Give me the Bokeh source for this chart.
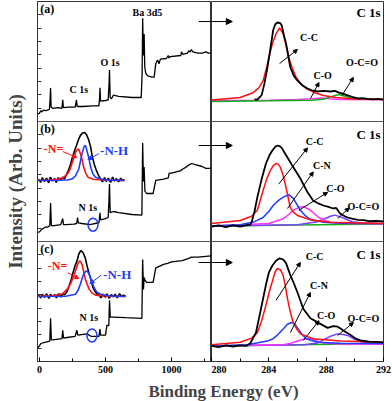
from bokeh.plotting import figure
from bokeh.layouts import row, column
from bokeh.models import Range1d, Span, Label, Arrow, NormalHead, FixedTicker
from bokeh.embed import file_html
from bokeh.resources import INLINE

FONT = "Liberation Serif"

# ---------------- data (binding energy eV, intensity in % of panel height) ----------------
survey_a = [(-15,6),(0,7),(10,9),(20,8),(30,9.5),(45,9),(60,9.5),(75,10),(80,18),(84,28),(88,12),(100,11),
            (140,11.5),(170,11),(176,18),(181,11.5),(220,12),(270,12),(280,18),(285,12.5),(330,12.5),(400,13),
            (450,13),(455,20),(458,28),(462,17),(500,17.5),(520,18),(526,30),(530,43),(535,20),(545,19),(560,22),
            (600,21),(700,20),(770,20),(777,40),(781,86),(786,55),(792,73),(797,45),(805,40),(820,38),(850,37),
            (868,37),(880,48),(892,51),(900,50),(905,48),(915,52),(960,52.5),(975,55),(980,53),(990,54),(1070,55),
            (1075,58),(1085,56),(1120,57),(1130,59),(1140,58),(1150,60),(1160,58),(1200,57),(1230,57),(1260,58),
            (1280,57),(1302,57)]
survey_b = [(-15,7.5),(0,8),(20,10.5),(30,11),(45,12),(60,12),(78,13),(84,32),(90,13.5),(100,13),(160,14),
            (176,19),(182,14),(200,14),(260,14.5),(282,15),(288,20),(294,15.5),(320,15),(380,14),(400,14.5),
            (420,15),(450,15.5),(458,24),(462,18),(500,19),(520,20),(526,35),(530,48),(535,24),(560,25),(600,24),
            (700,22.5),(775,22),(781,82),(787,50),(792,62),(798,42),(810,40),(860,40),(880,51),(940,52),(975,53),
            (982,57),(1000,57),(1070,59),(1078,60),(1110,62),(1120,63),(1150,65),(1180,64),(1230,62.5),(1260,61),
            (1302,61)]
survey_c = [(-15,11),(0,13),(10,15),(40,16),(78,17),(84,36),(90,18),(100,18),(170,19),(176,26),(182,19.5),
            (210,20),(270,21),(283,26),(290,22),(360,23),(390,21),(420,21),(450,21),(458,27),(462,22),(500,22),
            (510,30),(525,30),(530,51),(536,37),(560,37),(650,36.5),(775,36),(781,85),(787,60),(792,70),(798,68),
            (810,66),(860,66),(880,78),(940,81),(975,82),(1000,83),(1080,84),(1130,86),(1150,87),(1200,87),
            (1302,88)]

# N 1s insets (eV, counts in % of inset peak)
n1s_E = [392.0,392.4,392.7,393.1,393.5,393.9,394.2,394.6,395.0,395.3,395.7,396.1,396.5,396.8,397.2,397.6,
         398.0,398.3,398.7,399.1,399.4,399.8,400.2,400.6,400.9,401.3,401.7,402.0,402.4,402.8,403.2,403.5,
         403.9,404.3,404.6,405.0,405.4,405.8,406.1,406.5,406.9,407.3,407.6,408.0]
n1s_b_raw = [3,-4,6,-2,5,-5,7,-1,4,-4,6,0,7,3,12,22,35,48,62,74,84,94,99,100,96,86,70,50,33,20,10,4,
             -3,6,-2,5,-4,7,-1,4,-3,5,0,2]
n1s_c_raw = [4,-3,5,-2,6,-4,5,0,4,-3,6,-1,5,4,10,22,36,50,66,78,92,100,95,84,68,50,34,20,11,5,2,
             -3,5,-2,6,-4,4,-1,5,-3,6,0,3,1]
n1s_b_Ndbl = [(392.0,0.5),(394.2,1),(395.7,2.5),(396.6,6),(397.4,14),(397.9,24),(398.3,38),(398.7,50),(398.9,59),
              (399.2,64),(399.4,66),(399.6,62),(399.8,56),(400.1,44),(400.4,28),(400.8,15),(401.2,7),(402.2,2.5),
              (404.5,0.8),(408.0,0)]
n1s_b_NH = [(392,0),(396.1,0.5),(397.6,1.5),(398.3,3.5),(398.9,10),(399.5,24),(399.8,40),(400.1,55.5),(400.4,68),
            (400.6,73),(400.8,71),(401.0,62.5),(401.4,45),(401.7,28),(402.1,14),(402.6,7),(404.1,1.4),(408,0)]
n1s_c_Ndbl = [(392.0,0.5),(394.8,1.5),(396.4,6),(397.3,16),(397.9,28),(398.5,45),(398.9,60),(399.3,72.6),
              (399.6,77.6),(399.8,75),(400.0,70),(400.3,55),(400.6,37.8),(401.3,16),(401.8,8),(402.5,3),
              (404.7,0.5),(408,0)]
n1s_c_NH = [(392,0),(397.0,0.5),(398.8,5),(399.3,14),(399.7,27),(400.3,48.7),(400.8,56),(401.0,54),(401.3,48.7),
            (401.8,33),(402.2,19.6),(402.7,10),(403.4,5),(405.2,1),(408,0)]

# C 1s high resolution (eV, % of panel height)
c1s_a_exp = [(283.0,18.5),(283.2,18.3),(283.5,22),(283.7,32),(283.9,45),(284.1,60),(284.3,76),(284.45,81),
             (284.6,82.5),(284.8,82),(284.9,80),(285.05,72),(285.2,65),(285.5,45),(285.75,38),(286.0,34),
             (286.35,30),(286.7,27.5),(287.0,26),(287.4,25),(287.8,25.5),(288.3,25),(288.6,25.5),(288.9,24),
             (289.2,23),(289.5,21.7),(289.8,20.5),(290.2,19.2),(290.5,19.5),(290.9,18.8),(291.3,18.5),
             (291.6,18.9),(292.0,18.3)]
c1s_a_CC = [(280,18),(282.0,20),(282.9,24),(283.3,28),(283.6,34),(283.85,45),(284.0,53),(284.25,65),(284.5,73),
            (284.75,78),(285.0,73),(285.2,64),(285.4,53),(285.65,44),(285.9,37),(286.2,32),(286.6,27.5),
            (287.2,24),(287.8,21.7),(288.7,20),(289.7,19),(292,18.3)]
c1s_a_CO = [(280,17.5),(284,17.8),(286,18.3),(287,19),(287.6,19.5),(288.2,19),(289,18.4),(292,18.2)]
c1s_a_OCO = [(280,16.7),(284,17.2),(287,17.8),(287.8,18.5),(288.3,20.5),(288.9,22.5),(289.3,21),(289.7,19.5),
             (290.5,18.7),(292,18.5)]

c1s_b_exp = [(280,12.5),(280.5,13.5),(281,12),(281.5,13.5),(282,12.5),(282.4,13.5),(282.7,14),(282.8,16),
             (283.0,25),(283.2,37),(283.5,52),(283.8,65),(284.05,72),(284.26,76),(284.45,79),(284.6,80),
             (284.75,79.5),(284.9,78),(285.1,74),(285.3,70),(285.7,62),(286.2,52.5),(286.7,41),(287.1,34),
             (287.5,31.5),(287.8,30),(288.1,29),(288.5,27.5),(288.7,28),(289.0,23),(289.3,21),(289.5,20),
             (289.8,19),(290.2,18),(290.6,17.8),(291.0,17),(291.5,17.2),(292,16.7)]
c1s_b_CC = [(280,15),(282.0,17.5),(282.8,21),(283.2,26),(283.6,42.5),(283.85,52),(284.1,59),(284.3,63),
            (284.5,65),(284.65,64.5),(284.8,62),(285.0,55),(285.2,45),(285.5,28),(285.75,24),(286.0,21.7),
            (286.9,18),(288.3,16),(292,15)]
c1s_b_CN = [(280,13),(282,14),(283.0,16.5),(283.6,20),(284.0,25),(284.3,30),(284.7,34.5),(285.0,37),(285.4,39),
            (285.7,36),(286.0,30),(286.2,26),(286.5,22),(286.8,19),(287.8,16),(289,15.2),(292,15)]
c1s_b_CO = [(280,13),(284,15),(285.0,19),(285.4,22.5),(285.7,26),(286.1,28.5),(286.4,29),(286.7,27.5),
            (286.9,26),(287.2,23),(287.5,20),(287.9,17.5),(288.3,16),(289.5,15),(292,14.8)]
c1s_b_OCO = [(280,13),(286,14),(287.4,16.5),(287.9,19),(288.3,21),(288.6,22),(289.0,20.5),(289.4,18.5),
             (289.8,16.5),(290.5,15.5),(292,15)]
c1s_b_bg = [(280,13),(292,14.5)]

c1s_c_exp = [(280,13),(280.5,12),(281,13.5),(281.5,12.5),(282,13.5),(282.4,13),(282.7,15),(283.1,24),
             (283.35,38),(283.6,52.5),(283.8,64),(284.0,74),(284.25,80),(284.5,84),(284.75,86),(285.0,85),
             (285.2,82),(285.5,72),(285.75,65),(286.0,57.5),(286.4,44),(286.9,36),(287.5,32),(288.1,28),
             (288.5,29.5),(288.8,29),(289.0,27.5),(289.3,25),(289.7,22),(290.0,19.5),(290.4,17.5),(291.0,16.5),
             (291.5,16.3),(292,16)]
c1s_c_CC = [(280,14),(282.0,16),(282.8,19.5),(283.2,24),(283.5,34),(283.8,47),(284.05,59),(284.3,69),(284.45,75),
            (284.6,77.5),(284.8,76.5),(285.0,72),(285.15,63),(285.3,52.5),(285.5,41),(285.7,32.5),(285.95,27),
            (286.2,23),(287.1,19),(289.0,17),(292,16)]
c1s_c_CN = [(280,13),(282.5,14),(283.9,17),(284.3,19),(284.6,22),(285.0,27),(285.3,31),(285.6,32.5),(285.8,31.5),
            (286.0,28),(286.3,23),(286.6,19),(287.4,16),(289,15.2),(292,15)]
c1s_c_CO = [(280,13),(285,14),(285.5,15),(286.1,17.5),(286.6,19),(287.0,19),(287.4,17),(287.8,15.5),(289,14.5),
            (292,14.3)]
c1s_c_OCO = [(280,13),(286.5,14),(287.4,15.5),(287.8,18),(288.3,21),(288.8,23),(289.2,22.5),(289.5,21.7),
             (289.9,19),(290.4,16.7),(291,15.5),(292,15)]
c1s_c_bg = [(280,13),(292,15)]

survey_ticks = [0, 500, 1000]
survey_minor = [250, 750, 1250]
c1s_ticks = [280, 284, 288, 292]
c1s_minor = [282, 286, 290]
intensity_ticks = [i / 9 for i in range(1, 27)]   # unlabeled tick marks on the intensity axis

RED, BLUE, MAG, PUR, GRN = "#ff1010", "#1f3cff", "#ff30ff", "#7a3cff", "#10b010"

# ---------------- layout helpers ----------------
def span_range(f0, v0, f1, v1):
    """Range whose value v0 sits at frame fraction f0 and v1 at f1."""
    scale = (v1 - v0) / (f1 - f0)
    start = v0 - f0 * scale
    return Range1d(start=start, end=start + scale)

fy = lambda py: (361 - py) / 360.0      # reference pixel -> frame fraction
fx = lambda px: (px - 37) / 174.0

panel_ranges = lambda: {"a": span_range(2/3, 0, 1, 100), "b": span_range(1/3, 0, 2/3, 100),
                        "c": span_range(0, 0, 1/3, 100)}

def xy(pairs):
    return [p[0] for p in pairs], [p[1] for p in pairs]

def lab(fig, x, y, text, size, color="black", align="center", xr="default", yr="default"):
    fig.add_layout(Label(x=x, y=y, text=text, text_font=FONT, text_font_style="bold",
                         text_font_size=size, text_color=color, text_align=align,
                         text_baseline="middle", x_range_name=xr, y_range_name=yr))

def arrow(fig, x0, y0, x1, y1, color="black", xr="default", yr="default", head=True, size=5):
    end = NormalHead(size=size, fill_color=color, line_color=color, line_width=1) if head else None
    fig.add_layout(Arrow(end=end, x_start=x0, y_start=y0, x_end=x1, y_end=y1, line_color=color,
                         line_width=1, x_range_name=xr, y_range_name=yr))

def style_axes(fig):
    fig.grid.visible = False
    fig.outline_line_color = "#333333"
    fig.outline_line_width = 1
    for ax in fig.xaxis:
        ax.major_tick_in = 4
        ax.major_tick_out = 0
        ax.minor_tick_in = 3
        ax.minor_tick_out = 0
        ax.major_label_standoff = 4
        ax.major_label_text_font = FONT
        ax.major_label_text_font_style = "bold"
        ax.major_label_text_font_size = "10px"
        ax.major_label_text_color = "black"
        ax.axis_line_color = "#333333"

# ---------------- left: survey spectra ----------------
left = figure(width=211, height=380, output_backend="svg", toolbar_location=None,
              x_range=Range1d(-15, 1302), y_range=Range1d(0, 3),
              min_border_left=37, min_border_right=0, min_border_top=1, min_border_bottom=19)
left.extra_y_ranges = dict(panel_ranges(),
                           ins_b=span_range(fy(180), 0, fy(132), 100),
                           ins_c=span_range(fy(296), 0, fy(250), 100))
left.extra_x_ranges = {"ins_b": span_range(fx(38), 392, fx(124), 408),
                       "ins_c": span_range(fx(38), 392, fx(125), 408)}
style_axes(left)
left.xaxis.ticker = FixedTicker(ticks=survey_ticks, minor_ticks=survey_minor)
yax = left.yaxis[0]
yax.ticker = FixedTicker(ticks=intensity_ticks, minor_ticks=[])
yax.major_label_overrides = {t: "" for t in intensity_ticks}
yax.major_label_text_color = None
yax.major_label_standoff = 0
yax.major_tick_in = 4
yax.major_tick_out = 0
yax.major_tick_line_color = "#333333"
yax.axis_line_color = "#333333"
yax.axis_label = "Intensity (Arb. Units)"
yax.axis_label_text_font = FONT
yax.axis_label_text_font_style = "bold"
yax.axis_label_text_font_size = "19px"
yax.axis_label_standoff = 12

for nm, data in (("a", survey_a), ("b", survey_b), ("c", survey_c)):
    xs, ys = xy(data)
    left.line(xs, ys, y_range_name=nm, line_color="black", line_width=1.3)

for nm, raw, ndbl, nh in (("b", n1s_b_raw, n1s_b_Ndbl, n1s_b_NH), ("c", n1s_c_raw, n1s_c_Ndbl, n1s_c_NH)):
    r = "ins_" + nm
    left.line(n1s_E, raw, x_range_name=r, y_range_name=r, line_color="black", line_width=1.6)
    xs, ys = xy(ndbl)
    left.line(xs, ys, x_range_name=r, y_range_name=r, line_color=RED, line_width=1.6)
    xs, ys = xy(nh)
    left.line(xs, ys, x_range_name=r, y_range_name=r, line_color=BLUE, line_width=1.6)

for loc in (1, 2):
    left.add_layout(Span(location=loc, dimension="width", line_color="#555555", line_width=1))

# survey annotations
lab(left, 5, 94, "(a)", "12px", align="left", yr="a")
lab(left, 5, 94, "(b)", "12px", align="left", yr="b")
lab(left, 5, 94, "(c)", "12px", align="left", yr="c")
lab(left, 298, 27, "C 1s", "10px", yr="a")
lab(left, 534, 49, "O 1s", "10px", yr="a")
lab(left, 817, 91, "Ba 3d5", "10px", yr="a")
lab(left, 366, 28, "N 1s", "10px", yr="b")
lab(left, 374, 37, "N 1s", "10px", yr="c")
left.ellipse(x=[405], y=[14], width=10, height=13, width_units="screen", height_units="screen",
             fill_color=None, line_color=BLUE, line_width=1.5, y_range_name="b")
left.ellipse(x=[397], y=[21.7], width=10, height=13, width_units="screen", height_units="screen",
             fill_color=None, line_color=BLUE, line_width=1.5, y_range_name="c")
lab(left, 107, 77.5, "-N=", "12px", color=RED, yr="b")
lab(left, 565, 76, "-N-H", "13px", color=BLUE, yr="b")
lab(left, 137, 80, "-N=", "12px", color=RED, yr="c")
lab(left, 588, 72.5, "-N-H", "13px", color=BLUE, yr="c")
arrow(left, 176, 75, 282, 70, color=RED, yr="b", size=4)
arrow(left, 450, 73.3, 366, 68.3, color=BLUE, yr="b", size=4)
arrow(left, 214, 74, 298, 69, color=RED, yr="c", size=4)
arrow(left, 466, 71.7, 382, 65, color=BLUE, yr="c", size=4)
for nm, v in (("a", 83.3), ("b", 80), ("c", 82.5)):
    arrow(left, 1205, v, 1302, v, yr=nm, head=False)

# ---------------- right: C 1s spectra ----------------
right = figure(width=181, height=380, output_backend="svg", toolbar_location=None,
               x_range=Range1d(280, 292), y_range=Range1d(0, 3), y_axis_location=None,
               min_border_left=0, min_border_right=9, min_border_top=1, min_border_bottom=19)
right.extra_y_ranges = panel_ranges()
style_axes(right)
right.xaxis.ticker = FixedTicker(ticks=c1s_ticks, minor_ticks=c1s_minor)

def draw(data, nm, color, width=1.5):
    xs, ys = xy(data)
    right.line(xs, ys, y_range_name=nm, line_color=color, line_width=width)

draw(c1s_a_CO, "a", MAG); draw(c1s_a_OCO, "a", GRN); draw(c1s_a_CC, "a", RED); draw(c1s_a_exp, "a", "black", 1.8)
draw(c1s_b_bg, "b", GRN); draw(c1s_b_OCO, "b", PUR); draw(c1s_b_CO, "b", MAG); draw(c1s_b_CN, "b", BLUE)
draw(c1s_b_CC, "b", RED); draw(c1s_b_exp, "b", "black", 1.8)
draw(c1s_c_bg, "c", GRN); draw(c1s_c_OCO, "c", PUR); draw(c1s_c_CO, "c", MAG); draw(c1s_c_CN, "c", BLUE)
draw(c1s_c_CC, "c", RED); draw(c1s_c_exp, "c", "black", 1.8)

for loc in (1, 2):
    right.add_layout(Span(location=loc, dimension="width", line_color="#555555", line_width=1))

for nm, v, vt in (("a", 83.3, 91), ("b", 80, 89), ("c", 82.5, 89)):
    arrow(right, 280, v, 281.45, v, yr=nm, size=6)
    lab(right, 291.8, vt, "C 1s", "13px", align="right", yr=nm)

lab(right, 286.8, 70, "C-C", "10px", yr="a")
arrow(right, 284.75, 48.3, 286.0, 60, yr="a", size=4)
lab(right, 287.75, 38.3, "C-O", "10px", yr="a")
arrow(right, 286.9, 19, 287.5, 32.5, yr="a", size=4)
lab(right, 290.5, 49, "O-C=O", "10px", yr="a")
arrow(right, 289.1, 21.7, 289.9, 36.7, yr="a", size=4)

lab(right, 287.2, 83, "C-C", "10px", yr="b")
arrow(right, 284.7, 48, 286.7, 78, yr="b", size=4)
lab(right, 287.7, 63, "C-N", "10px", yr="b")
arrow(right, 285.3, 27.5, 287.1, 58, yr="b", size=4)
lab(right, 288.65, 44, "C-O", "10px", yr="b")
arrow(right, 286.1, 26, 288.1, 41, yr="b", size=4)
lab(right, 290.6, 29, "O-C=O", "10px", yr="b")
arrow(right, 288.8, 19, 289.6, 28, yr="b", size=4)

lab(right, 287.2, 87.5, "C-C", "10px", yr="c")
arrow(right, 284.5, 51, 286.2, 82.5, yr="c", size=4)
lab(right, 287.5, 63, "C-N", "10px", yr="c")
arrow(right, 285.5, 24, 286.9, 57.5, yr="c", size=4)
lab(right, 288.0, 38, "C-O", "10px", yr="c")
arrow(right, 286.4, 17.5, 287.5, 34, yr="c", size=4)
lab(right, 290.6, 36, "O-C=O", "10px", yr="c")
arrow(right, 288.8, 21.7, 289.9, 32.5, yr="c", size=4)

# ---------------- shared x title ----------------
tfig = figure(width=392, height=21, output_backend="svg", toolbar_location=None,
              x_range=Range1d(0, 1), y_range=Range1d(0, 1), x_axis_location=None, y_axis_location=None,
              min_border=0, outline_line_color=None)
tfig.grid.visible = False
tfig.add_layout(Label(x=223, y=10, x_units="screen", y_units="screen", text="Binding Energy (eV)",
                      text_font=FONT, text_font_style="bold", text_font_size="17px",
                      text_align="center", text_baseline="middle"))

layout = column(row(left, right, spacing=0), tfig, spacing=0)
open("out.html", "w").write(file_html(layout, INLINE))
